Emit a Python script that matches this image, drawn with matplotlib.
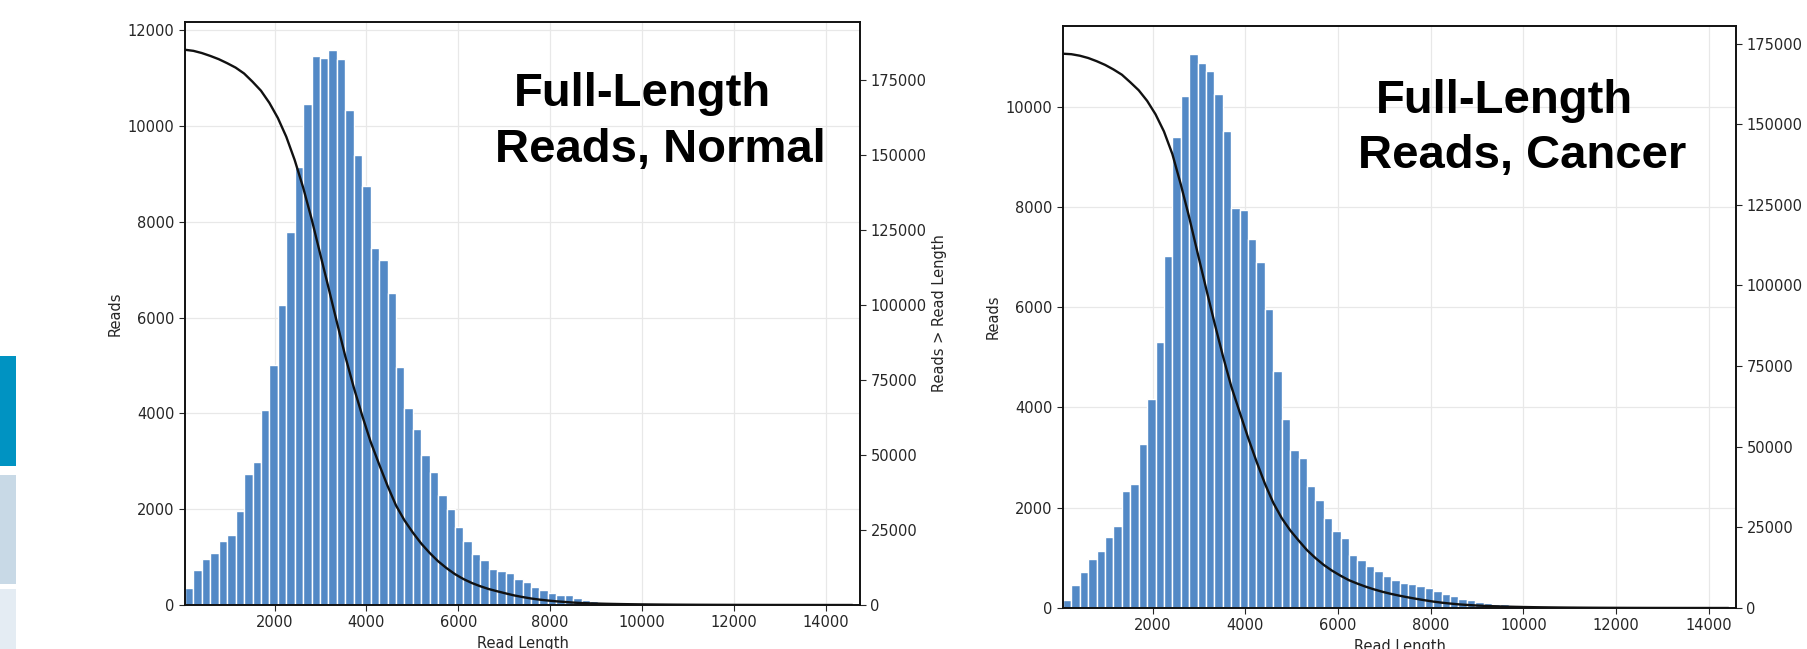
import numpy as np
import matplotlib
matplotlib.use("Agg")
import matplotlib.pyplot as plt
from matplotlib.patches import Rectangle

# read-length histograms: 80 bins between the shortest and longest read
n_bins = 80
normal_range = (50, 14745)
cancer_range = (63, 14590)

normal_counts = [
    364, 734, 958, 1084, 1343, 1469, 1958, 2741, 2993, 4070,
    5014, 6265, 7785, 9143, 10459, 11469, 11427, 11594, 11400, 10340,
    9400, 8759, 7457, 7206, 6523, 4979, 4105, 3685, 3126, 2770,
    2290, 2014, 1625, 1329, 1074, 933, 742, 707, 671, 544,
    481, 382, 311, 254, 212, 212, 148, 106, 85, 71,
    57, 50, 42, 36, 30, 26, 22, 19, 16, 14,
    12, 10, 9, 8, 7, 6, 5, 5, 4, 4,
    3, 3, 2, 2, 2, 1, 1, 1, 1, 1,
]

cancer_counts = [
    153, 466, 712, 985, 1145, 1418, 1631, 2344, 2477, 3276,
    4174, 5313, 7013, 9389, 10220, 11058, 10873, 10719, 10254, 9509,
    7971, 7937, 7358, 6893, 5960, 4727, 3762, 3149, 2996, 2443,
    2164, 1798, 1546, 1393, 1055, 962, 836, 743, 643, 557,
    504, 471, 438, 405, 338, 272, 245, 186, 153, 126,
    106, 86, 73, 60, 53, 45, 38, 32, 27, 23,
    20, 17, 14, 12, 10, 9, 8, 7, 6, 5,
    4, 4, 3, 3, 2, 2, 2, 1, 1, 1,
]

x_ticks = [2000, 4000, 6000, 8000, 10000, 12000, 14000]
right_ticks = [0, 25000, 50000, 75000, 100000, 125000, 150000, 175000]

BAR = '#5389c6'
GRID = '#e8e8e8'
TXT = '#262626'

plt.rcParams['font.family'] = ['DejaVu Sans']
plt.rcParams['font.size'] = 10.5

W, H = 1808, 649
fig = plt.figure(figsize=(W / 100, H / 100), dpi=100)


def px_box(x0, y0, x1, y1):
    # pixel box (top-left origin) -> figure fraction rect
    return [x0 / W, 1 - y1 / H, (x1 - x0) / W, (y1 - y0) / H]


def draw_panel(rect, counts, lo_hi, left_ticks):
    edges = np.linspace(lo_hi[0], lo_hi[1], n_bins + 1)
    counts = np.asarray(counts)
    # reads longer than each bin's left edge
    longer = counts[::-1].cumsum()[::-1]

    ax = fig.add_axes(rect)
    ax.set_axisbelow(True)
    ax.bar(edges[:-1], counts, width=np.diff(edges), align='edge',
           color=BAR, edgecolor='white', linewidth=1.0)
    ax.set_xlim(edges[0], edges[-1])
    ax.set_ylim(0, counts.max() * 1.05)
    ax.set_xticks(x_ticks)
    ax.set_yticks(left_ticks)
    ax.grid(True, color=GRID, linewidth=0.9)
    ax.set_ylabel('Reads', color=TXT)
    ax.set_xlabel('Read Length', color=TXT)
    ax.tick_params(colors=TXT, labelcolor=TXT, length=4)

    ax2 = ax.twinx()
    ax2.plot(edges[:-1], longer, color='#111111', linewidth=1.7)
    ax2.set_ylim(0, longer.max() * 1.05)
    ax2.set_yticks(right_ticks)
    ax2.set_ylabel('Reads > Read Length', color=TXT)
    ax2.tick_params(colors=TXT, labelcolor=TXT, length=4)

    for a in (ax, ax2):
        for s in a.spines.values():
            s.set_color('#111111')
            s.set_linewidth(1.2)
    return ax


draw_panel(px_box(185, 22, 860, 605), normal_counts, normal_range,
           [0, 2000, 4000, 6000, 8000, 10000, 12000])
draw_panel(px_box(1063, 26, 1736, 608), cancer_counts, cancer_range,
           [0, 2000, 4000, 6000, 8000, 10000])

title_kw = dict(fontsize=34, fontweight='bold', family='Liberation Sans',
                color='black', ha='left', va='baseline')
fig.text(514 / W, 1 - 105.5 / H, 'Full-Length', **title_kw)
fig.text(495 / W, 1 - 162 / H, 'Reads, Normal', **title_kw)
fig.text(1376 / W, 1 - 112.6 / H, 'Full-Length', **title_kw)
fig.text(1358 / W, 1 - 167.6 / H, 'Reads, Cancer', **title_kw)

# slide side tabs at the left edge
for y0, y1, c in [(356, 466, '#0093c2'), (475, 584, '#c8d9e6'), (589, 649, '#e4ecf3')]:
    fig.add_artist(Rectangle((0, 1 - y1 / H), 16 / W, (y1 - y0) / H,
                             transform=fig.transFigure, color=c, lw=0))

fig.savefig('out.png', dpi=100)
